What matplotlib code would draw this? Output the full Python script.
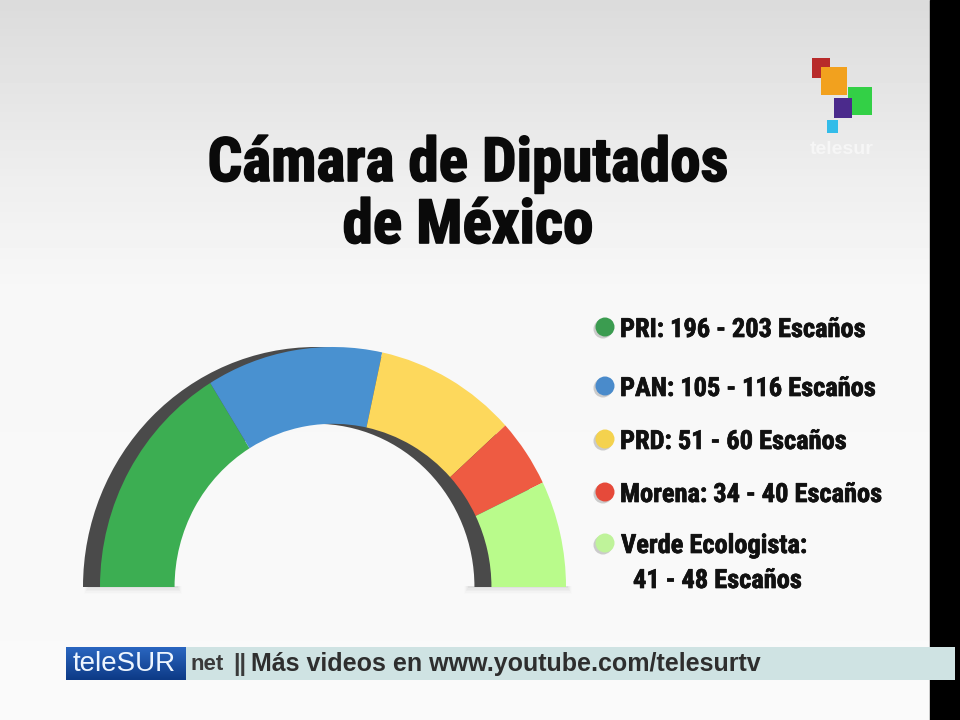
import numpy as np
import matplotlib
matplotlib.use("Agg")
import matplotlib.pyplot as plt
from matplotlib.patches import Wedge, Rectangle, Circle
from matplotlib.colors import LinearSegmentedColormap
from matplotlib import font_manager
import matplotlib.patheffects as pe

# ---------------- data ----------------
parties = ["PRI", "PAN", "PRD", "Morena", "Verde Ecologista"]
seats_low = [196, 105, 51, 34, 41]
seats_high = [203, 116, 60, 40, 48]
# angular span of each arc segment as drawn in the picture (degrees of the half circle)
arc_degrees = [58.2, 44.0, 35.5, 16.5, 25.8]
arc_colors = ["#3cae52", "#4991d0", "#fdd85c", "#ee5b42", "#b9fb8b"]
dot_colors = ["#3b9c50", "#4a8bcb", "#f4d24e", "#e64a3a", "#bff39a"]
title_lines = ["Cámara de Diputados", "de México"]
ticker_brand = "teleSUR"
ticker_text = "Más videos en www.youtube.com/telesurtv"

# ---------------- fonts ----------------
names = {f.name for f in font_manager.fontManager.ttflist}
cond = [n for n in ["Roboto Condensed", "PT Sans Narrow", "Fira Sans Condensed",
                    "Liberation Sans Narrow"] if n in names]
NARROW = dict(family=cond[:1] + ["DejaVu Sans"])
SANS = dict(family=["Liberation Sans", "DejaVu Sans"])

W, H = 960, 720
fig = plt.figure(figsize=(W / 100, H / 100), dpi=100)

# ---------------- background / overlay axes in pixel coordinates ----------------
bg = fig.add_axes([0, 0, 1, 1])
bg.set_xlim(0, W)
bg.set_ylim(H, 0)
bg.axis("off")

yy = np.linspace(0, 1, 200)
g = np.interp(yy, [0, 0.1, 0.25, 0.4, 1.0], [0.86, 0.89, 0.935, 0.97, 0.978])
grad = np.repeat(g[:, None], 2, axis=1)
bg.imshow(grad, cmap="gray", vmin=0, vmax=1, extent=[0, W, H, 0], aspect="auto", zorder=0)

# black frame strip on the right
bg.add_patch(Rectangle((930, 0), 30, H, color="black", zorder=1))

# title
heavy = [pe.withStroke(linewidth=1.2, foreground="#0a0a0a")]
bg.text(468, 181, title_lines[0], ha="center", va="baseline", fontsize=44,
        fontweight="bold", color="#0a0a0a", zorder=3, path_effects=heavy, **NARROW)
bg.text(468, 243, title_lines[1], ha="center", va="baseline", fontsize=44,
        fontweight="bold", color="#0a0a0a", zorder=3, path_effects=heavy, **NARROW)

# logo (top right)
logo = [((812, 58), 18, 20, "#b82a2a"),
        ((821, 67), 26, 28, "#f2a11e"),
        ((848, 87), 24, 28, "#33d046"),
        ((834, 98), 18, 20, "#4b2a8c"),
        ((827, 120), 11, 13, "#33bce9")]
for (x0, y0), w, h, c in logo:
    bg.add_patch(Rectangle((x0, y0), w, h, facecolor=c, edgecolor="none", zorder=3))
bg.text(842, 150, "telesur", ha="center", va="center", fontsize=14, fontweight="bold",
        color="#f6f6f6", zorder=3, **SANS)

# legend
semi = [pe.withStroke(linewidth=0.5, foreground="#111111")]
legend_y = [327, 386, 439, 492, 543]
for i, p in enumerate(parties):
    y = legend_y[i]
    bg.add_patch(Circle((603, y + 2), 9.5, facecolor="#777777", alpha=0.35, zorder=3))
    bg.add_patch(Circle((605, y), 9.5, facecolor=dot_colors[i], edgecolor="none", zorder=4))
    if i < len(parties) - 1:
        label = f"{p}: {seats_low[i]} - {seats_high[i]} Escaños"
        bg.text(620, y + 10, label, ha="left", va="baseline", fontsize=19, fontweight="bold",
                color="#111111", zorder=4, path_effects=semi, **NARROW)
    else:
        bg.text(621, y + 10, f"{p}:", ha="left", va="baseline", fontsize=19,
                fontweight="bold", color="#111111", zorder=4, path_effects=semi, **NARROW)
        bg.text(633, 588, f"{seats_low[i]} - {seats_high[i]} Escaños", ha="left",
                va="baseline", fontsize=19, fontweight="bold", color="#111111", zorder=4,
                path_effects=semi, **NARROW)

# ticker
bg.add_patch(Rectangle((66, 647), 889, 33, facecolor="#cfe3e3", edgecolor="none", zorder=3))
tick_grad = np.linspace(0, 1, 50)[:, None] * np.ones((1, 2))
bluecmap = LinearSegmentedColormap.from_list("b", ["#2a66c0", "#0d3a86"])
bg.imshow(tick_grad, cmap=bluecmap, extent=[66, 186, 680, 647], aspect="auto", zorder=4)
bg.text(124, 664, ticker_brand, ha="center", va="center", fontsize=20, color="#eef6ff",
        zorder=5, **SANS)
bg.text(190, 664, "net", ha="left", va="center", fontsize=16, fontweight="bold",
        color="#3a3a3a", zorder=5, **SANS)
bg.text(233, 664, "||", ha="left", va="center", fontsize=17, fontweight="bold",
        color="#3a3a3a", zorder=5, **SANS)
bg.text(251, 664, ticker_text, ha="left", va="center", fontsize=18, fontweight="bold",
        color="#2e2e2e", zorder=5, **SANS)

# soft drop shadow under the arc feet
for k in range(5):
    a = 0.05 * (5 - k) / 5
    bg.add_patch(Rectangle((88 - k, 586), 90 + 2 * k, 2 + 1.5 * k, facecolor="#555555",
                           alpha=a, edgecolor="none", zorder=2))
    bg.add_patch(Rectangle((468 - k, 586), 100 + 2 * k, 2 + 1.5 * k, facecolor="#555555",
                           alpha=a, edgecolor="none", zorder=2))

# ---------------- half-donut axes ----------------
cx, cy = 333, 587        # pixel position of the arc centre
sx, sy = 233, 240        # pixels per data unit (horizontal, vertical)
xl, xr, yb, yt = -1.4, 1.4, -0.3, 1.2
left_px = cx + xl * sx
right_px = cx + xr * sx
bottom_px = cy - yb * sy
top_px = cy - yt * sy
ax = fig.add_axes([left_px / W, (H - bottom_px) / H, (right_px - left_px) / W,
                   (bottom_px - top_px) / H])
ax.patch.set_alpha(0)

ring_w = 0.32
shift = 17 / sx
ax.add_patch(Wedge((-shift, 0), 1, 0, 180, width=ring_w, facecolor="#4a4a4a",
                   edgecolor="none", zorder=1))
fracs = [d / 360 for d in arc_degrees]
ax.pie(fracs, colors=arc_colors, startangle=180, counterclock=False, normalize=False,
       radius=1, wedgeprops=dict(width=ring_w, edgecolor="none", linewidth=0))
ax.set_aspect("auto")
ax.set_xlim(xl, xr)
ax.set_ylim(yb, yt)
ax.axis("off")

fig.savefig("out.png", dpi=100)
